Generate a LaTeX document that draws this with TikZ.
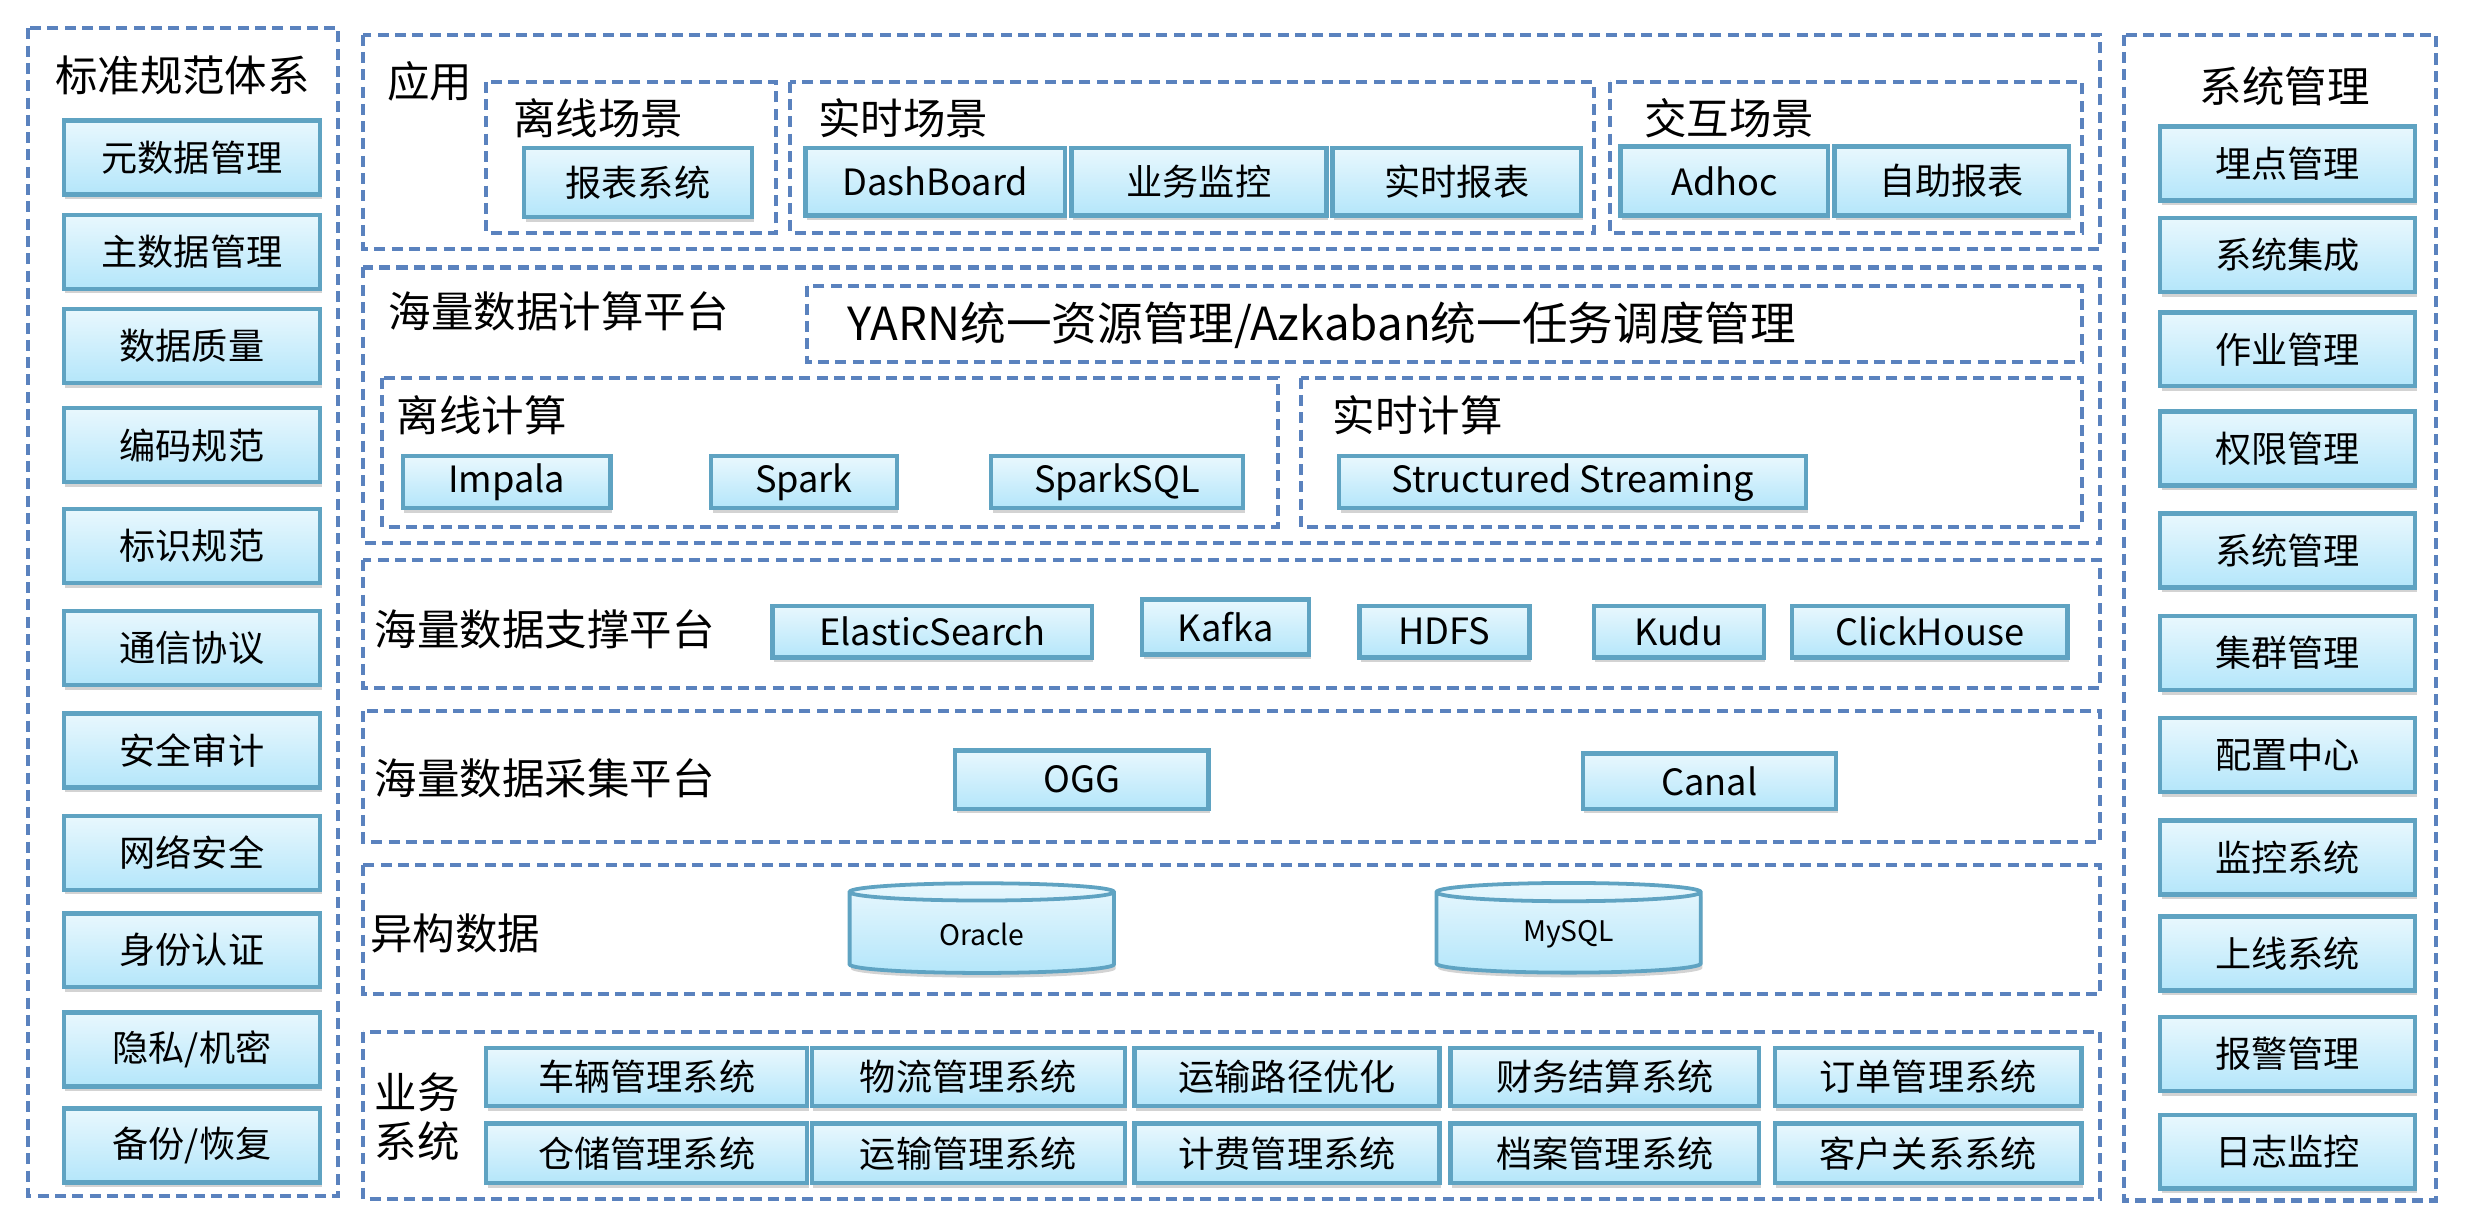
\documentclass[tikz,border=0pt]{standalone}
\usepackage{fontspec}
\setmainfont{Noto Sans CJK SC}
\usetikzlibrary{shadows,shapes.geometric}
\definecolor{dash}{HTML}{5A82BE}
\definecolor{bd}{HTML}{5FA3C2}
\definecolor{cy}{HTML}{B4E6FA}
\tikzset{
 panel/.style={draw=dash,line width=2.6pt,dash pattern=on 7pt off 4pt},
 bx/.style={draw=bd,line width=2.8pt,top color=white!70!cy,bottom color=cy,
   drop shadow={shadow xshift=1pt,shadow yshift=-3pt,opacity=.35},font=\fontsize{23}{23}\selectfont},
 ttl/.style={font=\fontsize{27}{27}\selectfont,anchor=west,inner sep=0pt},
 db/.style={cylinder,shape border rotate=90,aspect=0.18,draw=bd,line width=2.4pt,
   top color=white!70!cy,bottom color=cy,minimum width=168pt,minimum height=57pt,
   drop shadow={shadow xshift=1pt,shadow yshift=-3pt,opacity=.35},font=\fontsize{18}{18}\selectfont}
}
\newcommand{\bxn}[6]{\node[bx,minimum width=#4-#2 pt,minimum height=#5-#3 pt,inner sep=0pt] (#1) at ({(#2+#4)/2},{(#3+#5)/2}) {#6};}
\begin{document}
\begin{tikzpicture}[x=1pt,y=-1pt]
\useasboundingbox (0,0) rectangle (1568,778);
% left
\draw[panel] (18,18) rectangle (215,760);
\node[ttl,anchor=center] (lt) at (116,48) {标准规范体系};
\foreach \y/\t [count=\i] in {100/元数据管理,160/主数据管理,220/数据质量,283/编码规范,347/标识规范,412/通信协议,477/安全审计,542/网络安全,604/身份认证,667/{隐私/机密},728/{备份/恢复}}{
 \node[bx,minimum width=163pt,minimum height=47pt,inner sep=0pt] (l\i) at (122,\y) {\t};}
% right
\draw[panel] (1350,22) rectangle (1548,763);
\node[ttl,anchor=center] (rt) at (1452,55) {系统管理};
\foreach \y/\t [count=\i] in {104/埋点管理,162/系统集成,222/作业管理,285/权限管理,350/系统管理,415/集群管理,480/配置中心,545/监控系统,606/上线系统,670/报警管理,732/日志监控}{
 \node[bx,minimum width=162pt,minimum height=47pt,inner sep=0pt] (r\i) at (1454,\y) {\t};}
% app
\draw[panel] (231,22) rectangle (1335,158);
\node[ttl] (app) at (246,52) {应用};
\draw[panel] (309,52) rectangle (493,148);
\node[ttl] (lx) at (326,75) {离线场景};
\bxn{bb}{333}{94}{478}{138}{报表系统}
\draw[panel] (502,52) rectangle (1013,148);
\node[ttl] (ss) at (520,75) {实时场景};
\bxn{dash1}{512}{94}{677}{137}{DashBoard}
\bxn{ywjk}{681}{94}{843}{137}{业务监控}
\bxn{ssbb}{847}{94}{1005}{137}{实时报表}
\draw[panel] (1023,52) rectangle (1323,148);
\node[ttl] (jh) at (1045,75) {交互场景};
\bxn{adhoc}{1030}{93}{1162}{137}{Adhoc}
\bxn{zzbb}{1166}{93}{1315}{137}{自助报表}
% compute
\draw[panel] (231,170) rectangle (1335,345);
\node[ttl] (jsp) at (247,198) {海量数据计算平台};
\draw[panel] (513,182) rectangle (1323,230);
\node[ttl,anchor=center,font=\fontsize{29}{29}\selectfont] (yarn) at (840,207) {YARN统一资源管理/Azkaban统一任务调度管理};
\draw[panel] (243,240) rectangle (812,335);
\node[ttl] (lxjs) at (252,264) {离线计算};
\bxn{impala}{256}{290}{388}{323}{Impala}
\bxn{spark}{452}{290}{570}{323}{Spark}
\bxn{sparksql}{630}{290}{790}{323}{SparkSQL}
\draw[panel] (827,240) rectangle (1323,335);
\node[ttl] (ssjs) at (847,264) {实时计算};
\bxn{sst}{851}{290}{1148}{323}{Structured Streaming}
% support
\draw[panel] (231,356) rectangle (1335,437);
\node[ttl] (zc) at (238,400) {海量数据支撑平台};
\bxn{es}{491}{385}{694}{418}{ElasticSearch}
\bxn{kafka}{726}{381}{832}{416}{Kafka}
\bxn{hdfs}{864}{385}{972}{418}{HDFS}
\bxn{kudu}{1013}{385}{1121}{418}{Kudu}
\bxn{ch}{1139}{385}{1314}{418}{ClickHouse}
% collect
\draw[panel] (231,452) rectangle (1335,535);
\node[ttl] (cj) at (238,495) {海量数据采集平台};
\bxn{ogg}{607}{477}{768}{514}{OGG}
\bxn{canal}{1006}{479}{1167}{514}{Canal}
% hetero
\draw[panel] (231,550) rectangle (1335,632);
\node[ttl] (yg) at (235,593) {异构数据};
\node[db] (oracle) at (624,594) {Oracle};
\node[db] (mysql) at (997,594) {MySQL};
% business
\draw[panel] (231,656) rectangle (1335,762);
\node[ttl,align=left] (yw) at (238,710) {业务\\[4pt]系统};
\foreach \a/\b/\t [count=\i] in {309/513/车辆管理系统,516/715/物流管理系统,721/915/运输路径优化,922/1118/财务结算系统,1128/1323/订单管理系统}{
 \bxn{b1\i}{\a}{666}{\b}{703}{\t}}
\foreach \a/\b/\t [count=\i] in {309/513/仓储管理系统,516/715/运输管理系统,721/915/计费管理系统,922/1118/档案管理系统,1128/1323/客户关系系统}{
 \bxn{b2\i}{\a}{714}{\b}{752}{\t}}
\end{tikzpicture}
\end{document}
